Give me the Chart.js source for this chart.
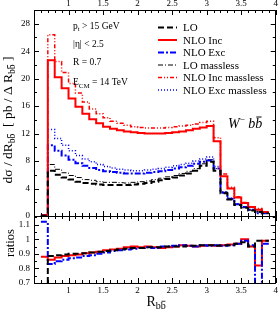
<!DOCTYPE html>
<html>
<head>
<meta charset="utf-8">
<script src="https://cdn.jsdelivr.net/npm/chart.js@4.4.1/dist/chart.umd.min.js"></script>
<style>
  html, body { margin: 0; padding: 0; background: #fff; }
  canvas { display: block; }
</style>
</head>
<body>
<canvas id="chart" width="280" height="312"></canvas>
<script>
// bin edges of R_bb (width 0.1)
const binEdges = [0.6, 0.7, 0.8, 0.9, 1.0, 1.1, 1.2, 1.3, 1.4, 1.5, 1.6, 1.7, 1.8, 1.9, 2.0, 2.1, 2.2,
    2.3, 2.4, 2.5, 2.6, 2.7, 2.8, 2.9, 3.0, 3.1, 3.2, 3.3, 3.4, 3.5, 3.6, 3.7, 3.8, 3.9];

// upper panel, dsigma/dR in pb per bin
const loValues = [0.05, 6.6, 6.0, 5.6, 5.3, 5.0, 4.8, 4.7, 4.6, 4.5, 4.5, 4.5, 4.5, 4.6, 4.7, 4.8, 5.0,
    5.2, 5.4, 5.6, 5.9, 6.2, 6.6, 7.3, 7.9, 6.6, 3.3, 2.4, 1.6, 1.2, 0.8, 0.6, 0.4];
const nloIncValues = [0.1, 22.7, 20.2, 18.6, 17.1, 15.9, 14.9, 14.1, 13.5, 13.0, 12.7, 12.5, 12.3, 12.2, 12.1, 12.0, 12.0,
    12.0, 12.1, 12.2, 12.3, 12.5, 12.7, 12.9, 13.1, 10.9, 5.8, 4.0, 2.7, 1.9, 1.3, 0.9, 0.6];
const nloExcValues = [0.1, 10.3, 9.5, 8.8, 8.2, 7.7, 7.3, 7.0, 6.7, 6.5, 6.4, 6.3, 6.2, 6.2, 6.2, 6.3, 6.4,
    6.5, 6.7, 6.9, 7.1, 7.3, 7.6, 7.9, 8.1, 6.9, 3.4, 2.5, 1.7, 1.3, 0.9, 0.4, 0.4];
const loMasslessValues = [0.05, 7.5, 6.8, 6.3, 5.9, 5.6, 5.3, 5.2, 5.0, 4.9, 4.9, 4.85, 4.8, 4.9, 5.0, 5.1, 5.3,
    5.5, 5.7, 5.9, 6.2, 6.5, 6.9, 7.6, 8.2, 6.9, 3.5, 2.5, 1.7, 1.2, 0.85, 0.6, 0.4];
const nloIncMasslessValues = [0.1, 26.4, 22.5, 20.9, 19.3, 17.9, 16.6, 15.6, 14.9, 14.3, 13.8, 13.5, 13.2, 13.0, 12.9, 12.8, 12.8,
    12.8, 12.9, 13.0, 13.1, 13.2, 13.4, 13.6, 13.8, 11.4, 6.1, 4.2, 2.8, 1.95, 1.35, 1.1, 0.6];
const nloExcMasslessValues = [0.1, 12.6, 11.3, 10.3, 9.5, 8.8, 8.3, 7.9, 7.5, 7.2, 7.0, 6.8, 6.7, 6.6, 6.6, 6.7, 6.8,
    6.9, 7.1, 7.3, 7.5, 7.7, 8.0, 8.3, 8.6, 7.2, 3.5, 2.6, 1.8, 1.3, 0.95, 0.7, 0.45];

// lower panel, massive / massless
const loRatio = [0.5, 0.885, 0.89, 0.895, 0.9, 0.9, 0.905, 0.91, 0.915, 0.92, 0.925, 0.93, 0.935, 0.94, 0.94, 0.945, 0.945,
    0.945, 0.95, 0.95, 0.95, 0.955, 0.955, 0.96, 0.96, 0.955, 0.96, 0.96, 0.97, 0.98, 0.95, 0.99, 0.99];
const nloIncRatio = [0.88, 0.86, 0.875, 0.885, 0.89, 0.895, 0.905, 0.91, 0.915, 0.925, 0.93, 0.935, 0.945, 0.95, 0.945, 0.95, 0.945,
    0.94, 0.945, 0.95, 0.96, 0.955, 0.95, 0.955, 0.96, 0.955, 0.96, 0.965, 0.97, 1.0, 0.95, 0.82, 0.99];
const nloExcRatio = [1.12, 0.83, 0.85, 0.86, 0.87, 0.875, 0.885, 0.89, 0.9, 0.91, 0.92, 0.925, 0.93, 0.935, 0.94, 0.945, 0.94,
    0.95, 0.95, 0.955, 0.96, 0.955, 0.95, 0.96, 0.955, 0.96, 0.955, 0.96, 0.97, 0.99, 0.96, 0.55, 0.97];

const xTickLabels = [1, 1.5, 2, 2.5, 3, 3.5, 4];
const yTickLabels = [0, 4, 8, 12, 16, 20, 24, 28];
const ratioTickLabels = [0.7, 0.8, 0.9, 1, 1.1];

const SERIF = "'Liberation Serif', 'Times New Roman', serif";

// left bin edges + closing point, drawn with stepped: 'before'
function toSteps(values) {
    const pts = values.map((v, i) => ({ x: binEdges[i], y: v }));
    pts.push({ x: binEdges[values.length], y: values[values.length - 1] });
    return pts;
}

function histo(label, values, color, width, dash, axis) {
    return {
        label: label,
        data: toSteps(values),
        borderColor: color,
        borderWidth: width,
        borderDash: dash,
        yAxisID: axis,
        stepped: "before",
        pointRadius: 0,
        fill: false,
        tension: 0,
    };
}

const datasets = [
    histo("LO", loValues, "#000000", 2, [6, 3], "y"),
    histo("NLO Inc", nloIncValues, "#ff0000", 2, [], "y"),
    histo("NLO Exc", nloExcValues, "#0000ff", 2, [6, 2, 2, 2], "y"),
    histo("LO massless", loMasslessValues, "#000000", 1, [5, 2, 1, 2], "y"),
    histo("NLO Inc massless", nloIncMasslessValues, "#ff0000", 1.5, [4, 2, 1, 2, 1, 2], "y"),
    histo("NLO Exc massless", nloExcMasslessValues, "#0000ff", 1.5, [1, 2], "y"),
    histo("LO ratio", loRatio, "#000000", 2, [6, 3], "yRatio"),
    histo("NLO Exc ratio", nloExcRatio, "#0000ff", 2, [6, 2, 2, 2], "yRatio"),
    histo("NLO Inc ratio", nloIncRatio, "#ff0000", 2, [], "yRatio"),
];

function fontStr(p) {
    return (p.italic ? "italic " : "") + p.size + "px " + SERIF;
}

function richWidth(ctx, parts) {
    let w = 0;
    parts.forEach(p => { ctx.font = fontStr(p); w += ctx.measureText(p.t).width; });
    return w;
}

function drawRich(ctx, x, y, parts) {
    let cx = x;
    parts.forEach(p => {
        ctx.font = fontStr(p);
        const w = ctx.measureText(p.t).width;
        const by = y + (p.dy || 0);
        ctx.fillText(p.t, cx, by);
        if (p.bar) {
            ctx.fillRect(cx + w * 0.15, by - p.size * 0.82, w * 0.75, Math.max(0.8, p.size * 0.07));
        }
        cx += w;
    });
}

const frameTicks = {
    id: "frameTicks",
    afterDatasetsDraw(chart) {
        const ctx = chart.ctx;
        const xs = chart.scales.x;
        const panels = [chart.scales.y, chart.scales.yRatio];
        ctx.save();
        ctx.strokeStyle = "#000";
        ctx.lineWidth = 1;
        ctx.beginPath();
        panels.forEach(ys => {
            ctx.rect(Math.round(xs.left) + 0.5, Math.round(ys.top) + 0.5,
                Math.round(xs.right - xs.left) - 1, Math.round(ys.bottom - ys.top));
            for (let i = 5; i <= 40; i++) {
                const px = Math.round(xs.getPixelForValue(i / 10)) + 0.5;
                const len = i % 5 === 0 ? 5 : 3;
                ctx.moveTo(px, ys.top); ctx.lineTo(px, ys.top + len);
                ctx.moveTo(px, ys.bottom); ctx.lineTo(px, ys.bottom - len);
            }
        });
        const yTicks = [];
        for (let v = 0; v <= 30; v += 2) yTicks.push([chart.scales.y, v, v % 4 === 0]);
        for (let i = 14; i <= 23; i++) yTicks.push([chart.scales.yRatio, i / 20, i % 2 === 0]);
        yTicks.forEach(([ys, v, major]) => {
            const py = Math.round(ys.getPixelForValue(v)) + 0.5;
            const len = major ? 5 : 3;
            ctx.moveTo(xs.left, py); ctx.lineTo(xs.left + len, py);
            ctx.moveTo(xs.right, py); ctx.lineTo(xs.right - len, py);
        });
        ctx.stroke();
        ctx.restore();
    },
};

const texts = {
    id: "texts",
    afterDraw(chart) {
        const ctx = chart.ctx;
        ctx.save();
        ctx.fillStyle = "#000";
        ctx.textBaseline = "alphabetic";
        ctx.textAlign = "left";

        // cuts
        drawRich(ctx, 73, 28.5, [{ t: "p", size: 9.5 }, { t: "t", size: 7, dy: 2 }, { t: " > 15 GeV", size: 9.5 }]);
        drawRich(ctx, 73, 47, [{ t: "|η| < 2.5", size: 9.5 }]);
        drawRich(ctx, 73, 65, [{ t: "R = 0.7", size: 9.5 }]);
        drawRich(ctx, 73, 85, [{ t: "E", size: 9.5 }, { t: "CM", size: 7, dy: 2.5 }, { t: " = 14 TeV", size: 9.5 }]);

        // process label
        drawRich(ctx, 228, 128, [
            { t: "W", size: 14, italic: true },
            { t: "−", size: 9, dy: -6 },
            { t: " b", size: 14, italic: true },
            { t: "b", size: 14, italic: true, bar: true },
        ]);

        // legend
        const items = chart.data.datasets.filter(d => d.yAxisID === "y");
        items.forEach((d, i) => {
            const cy = 27 + i * 12.5;
            ctx.save();
            ctx.strokeStyle = d.borderColor;
            ctx.lineWidth = d.borderWidth;
            ctx.setLineDash(d.borderDash);
            ctx.beginPath();
            ctx.moveTo(158, cy + 0.5);
            ctx.lineTo(177, cy + 0.5);
            ctx.stroke();
            ctx.restore();
            ctx.font = "11px " + SERIF;
            ctx.fillText(d.label, 183, cy + 4);
        });

        // y titles
        const bb = [{ t: "b", size: 9.5, dy: 3 }, { t: "b", size: 9.5, dy: 3, bar: true }];
        const yTitle = [{ t: "dσ / dR", size: 13.5 }, ...bb, { t: "  [ pb / Δ R", size: 13.5 }, ...bb, { t: " ]", size: 13.5 }];
        ctx.save();
        ctx.translate(12, 120);
        ctx.rotate(-Math.PI / 2);
        drawRich(ctx, -richWidth(ctx, yTitle) / 2, 0, yTitle);
        ctx.restore();

        const rTitle = [{ t: "ratios", size: 12.5 }];
        ctx.save();
        ctx.translate(14, 243);
        ctx.rotate(-Math.PI / 2);
        drawRich(ctx, -richWidth(ctx, rTitle) / 2, 0, rTitle);
        ctx.restore();

        // x title
        drawRich(ctx, 146.5, 306, [
            { t: "R", size: 14 },
            { t: "b", size: 10, dy: 3 },
            { t: "b", size: 10, dy: 3, bar: true },
        ]);
        ctx.restore();
    },
};

const tickFont = { family: SERIF, size: 9 };

function fixedTicks(values) {
    return scale => { scale.ticks = values.map(v => ({ value: v })); };
}

new Chart(document.getElementById("chart"), {
    type: "line",
    data: { datasets: datasets },
    plugins: [frameTicks, texts],
    options: {
        responsive: false,
        animation: false,
        events: [],
        layout: { padding: { left: 0, right: 2, top: 0, bottom: 0 } },
        plugins: {
            legend: { display: false },
            tooltip: { enabled: false },
        },
        scales: {
            x: {
                type: "linear",
                position: "bottom",
                min: 0.5,
                max: 4,
                grid: { display: false, drawTicks: false },
                border: { display: false },
                afterBuildTicks: fixedTicks(xTickLabels),
                afterFit: s => { s.height = 29; },
                ticks: { font: tickFont, color: "#000", padding: 2, maxRotation: 0, autoSkip: false, callback: v => String(v) },
            },
            xTop: {
                type: "linear",
                position: "top",
                min: 0.5,
                max: 4,
                grid: { display: false, drawTicks: false },
                border: { display: false },
                afterBuildTicks: fixedTicks(xTickLabels),
                afterFit: s => { s.height = 10; },
                ticks: { font: tickFont, color: "#000", padding: 1, maxRotation: 0, autoSkip: false, callback: v => String(v) },
            },
            yRatio: {
                type: "linear",
                position: "left",
                stack: "panels",
                stackWeight: 67,
                min: 0.7,
                max: 1.16,
                grid: { display: false, drawTicks: false },
                border: { display: false },
                afterBuildTicks: fixedTicks(ratioTickLabels),
                afterFit: s => { s.width = 34; },
                ticks: { font: tickFont, color: "#000", padding: 4, autoSkip: false, callback: v => String(v) },
            },
            y: {
                type: "linear",
                position: "left",
                stack: "panels",
                stackWeight: 206,
                min: 0,
                max: 30,
                grid: { display: false, drawTicks: false },
                border: { display: false },
                afterBuildTicks: fixedTicks(yTickLabels),
                afterFit: s => { s.width = 34; },
                ticks: { font: tickFont, color: "#000", padding: 4, autoSkip: false, callback: v => String(v) },
            },
        },
    },
});
</script>
</body>
</html>
